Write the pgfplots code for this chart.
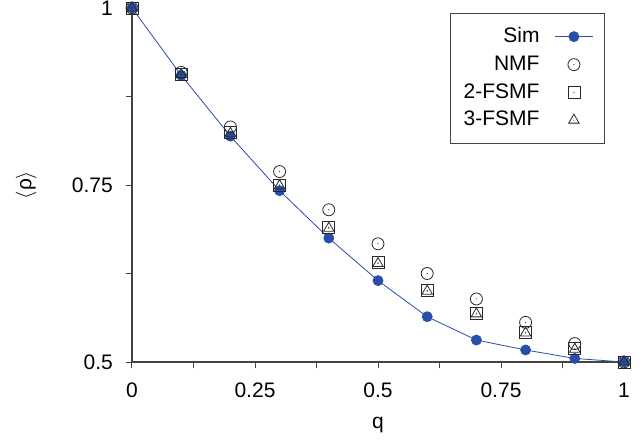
\documentclass[border=0pt]{standalone}
\usepackage{fontspec}
\setmainfont{Liberation Sans}
\usepackage{pgfplots}
\pgfplotsset{compat=1.18}
\definecolor{simblue}{RGB}{42,78,168}
\definecolor{axgray}{RGB}{68,68,68}
\definecolor{mk}{RGB}{40,40,40}
\pgfdeclareplotmark{odot}{%
  \pgfpathcircle{\pgfpointorigin}{\pgfplotmarksize}\pgfusepathqstroke
  \pgfpathcircle{\pgfpointorigin}{0.6pt}\pgfusepathqfill}
\pgfdeclareplotmark{sdot}{%
  \pgfpathrectanglecorners{\pgfpoint{-\pgfplotmarksize}{-\pgfplotmarksize}}{\pgfpoint{\pgfplotmarksize}{\pgfplotmarksize}}\pgfusepathqstroke
  \pgfpathcircle{\pgfpointorigin}{0.6pt}\pgfusepathqfill}
\pgfdeclareplotmark{tdot}{%
  \pgfpathmoveto{\pgfpoint{0pt}{\pgfplotmarksize}}%
  \pgfpathlineto{\pgfpoint{-0.866\pgfplotmarksize}{-0.5\pgfplotmarksize}}%
  \pgfpathlineto{\pgfpoint{0.866\pgfplotmarksize}{-0.5\pgfplotmarksize}}%
  \pgfpathclose\pgfusepathqstroke
  \pgfpathcircle{\pgfpointorigin}{0.6pt}\pgfusepathqfill}
\begin{document}
\fontsize{21}{25}\selectfont
\begin{tikzpicture}
\path[use as bounding box] (-132pt,-77pt) rectangle (510pt,362pt);
\begin{axis}[
  scale only axis,
  width=492pt, height=354pt,
  xmin=0, xmax=1, ymin=0.5, ymax=1,
  axis lines*=left,
  axis line style={axgray, line width=1.3pt},
  tick align=outside,
  major tick length=6pt, minor tick length=6pt,
  tick style={axgray, line width=1pt},
  xtick={0,0.25,0.5,0.75,1},
  minor xtick={0.125,0.375,0.625,0.875},
  ytick={0.5,0.75,1},
  minor ytick={0.625,0.875},
  xticklabels={0,0.25,0.5,0.75,1},
  yticklabels={0.5,0.75,1},
  ticklabel style={font=\fontsize{21}{25}\selectfont, text=black},
  xticklabel style={yshift=-8pt},
  yticklabel style={xshift=-6pt},
  xlabel={q},
  ylabel={$\langle$ρ$\rangle$},
  xlabel style={at={(axis description cs:0.5,-0.178)}, anchor=center, font=\fontsize{21}{25}\selectfont},
  ylabel style={at={(axis description cs:-0.215,0.5)}, anchor=center, font=\fontsize{21}{25}\selectfont},
  clip=false,
  legend style={at={(0.961,0.986)}, anchor=north east, draw=axgray, line width=1pt,
    font=\fontsize{21}{25}\selectfont, row sep=6pt, column sep=13pt, inner xsep=11pt, inner ysep=12pt},
  legend cell align=right,
  legend plot pos=right,
  legend image code/.code={\draw[mark repeat=2,mark phase=2,#1] plot coordinates {(0pt,0pt) (19pt,0pt) (38pt,0pt)};},
]
\addplot[simblue, line width=0.8pt, mark=*, mark size=5pt, mark options={fill=simblue, draw=simblue}]
coordinates {(0,1) (0.1,0.905) (0.2,0.819) (0.3,0.742) (0.4,0.675) (0.5,0.615) (0.6,0.564) (0.7,0.531) (0.8,0.517) (0.9,0.505) (1,0.5)};
\addlegendentry{Sim}
\addplot[only marks, mk, line width=0.8pt, mark=odot, mark size=6pt]
coordinates {(0,1) (0.1,0.909) (0.2,0.832) (0.3,0.769) (0.4,0.715) (0.5,0.667) (0.6,0.625) (0.7,0.589) (0.8,0.556) (0.9,0.526) (1,0.5)};
\addlegendentry{NMF}
\addplot[only marks, mk, line width=0.8pt, mark=sdot, mark size=6pt]
coordinates {(0,1) (0.1,0.906) (0.2,0.824) (0.3,0.750) (0.4,0.690) (0.5,0.640) (0.6,0.601) (0.7,0.569) (0.8,0.542) (0.9,0.519) (1,0.5)};
\addlegendentry{2-FSMF}
\addplot[only marks, mk, line width=0.8pt, mark=tdot, mark size=6pt]
coordinates {(0,1) (0.1,0.906) (0.2,0.823) (0.3,0.749) (0.4,0.689) (0.5,0.639) (0.6,0.600) (0.7,0.568) (0.8,0.541) (0.9,0.518) (1,0.5)};
\addlegendentry{3-FSMF}
\end{axis}
\end{tikzpicture}
\end{document}
